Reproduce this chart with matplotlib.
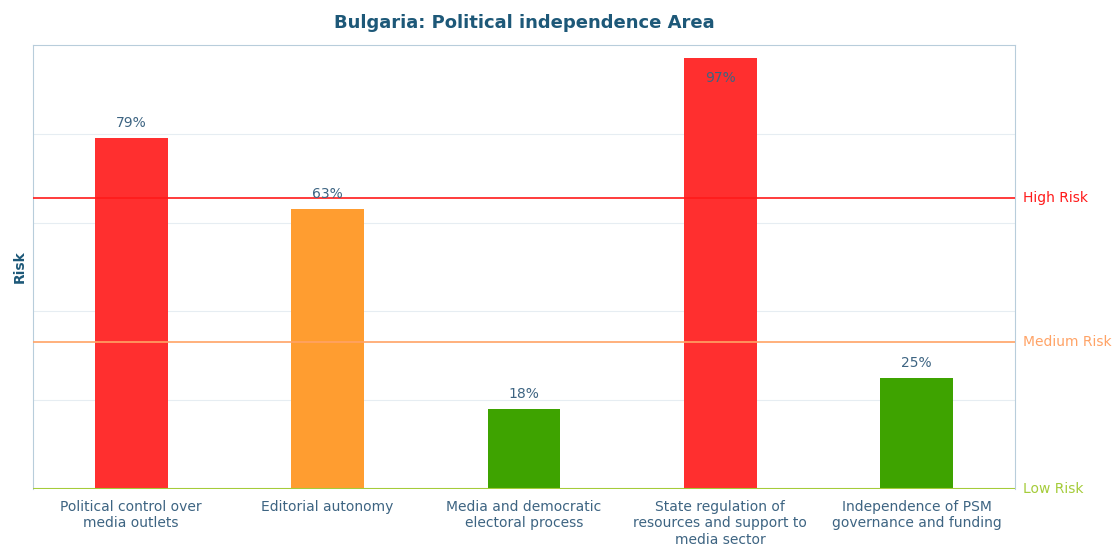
import matplotlib.pyplot as plt

# Data
categories = ['Political control over\nmedia outlets',
              'Editorial autonomy',
              'Media and democratic\nelectoral process',
              'State regulation of\nresources and support to\nmedia sector',
              'Independence of PSM\ngovernance and funding']
risk_values = [79, 63, 18, 97, 25]
bar_colors = ['#ff2f2f', '#ff9d30', '#3ea300', '#ff2f2f', '#3ea300']
threshold_names = ['Low Risk', 'Medium Risk', 'High Risk']
threshold_values = [0, 33, 65.5]
threshold_colors = ['#a5cc3a', '#ffa366', '#ff1a1a']

text_col = '#3d6482'
title_col = '#1d5878'
spine_col = '#b8cddb'

fig = plt.figure(figsize=(11.16, 5.46), dpi=100)
ax = fig.add_axes([0.0296, 0.1044, 0.8799, 0.8132])

x = list(range(len(categories)))
ax.bar(x, risk_values, width=0.37, color=bar_colors, zorder=3)

# value labels
for xi, v in zip(x, risk_values):
    if v > 92:
        ax.annotate(f'{v}%', (xi, v), xytext=(0, -14), textcoords='offset points',
                    ha='center', va='center', fontsize=10, color=text_col, zorder=5)
    else:
        ax.annotate(f'{v}%', (xi, v), xytext=(0, 11), textcoords='offset points',
                    ha='center', va='center', fontsize=10, color=text_col, zorder=5)

# risk thresholds
for name, val, col in zip(threshold_names, threshold_values, threshold_colors):
    ax.axhline(val, color=col, lw=1.2 if val > 0 else 1.5, zorder=4)
    ax.text(1.008, val, name, transform=ax.get_yaxis_transform(), color=col,
            fontsize=10, va='center', ha='left')

ax.set_xlim(-0.5, 4.5)
ax.set_ylim(0, 100)
ax.set_yticks([20, 40, 60, 80])
ax.set_yticklabels([])
ax.tick_params(axis='y', length=0)
ax.grid(axis='y', color='#e6edf2', lw=0.8, zorder=0)

ax.set_xticks(x)
ax.set_xticklabels(categories, fontsize=10, color=text_col)
ax.tick_params(axis='x', length=0, pad=8)

for s in ['left', 'right', 'top']:
    ax.spines[s].set_color(spine_col)
ax.spines['bottom'].set_visible(False)

ax.set_ylabel('Risk', fontsize=10, fontweight='bold', color=title_col, labelpad=1)
ax.set_title('Bulgaria: Political independence Area', fontsize=13, fontweight='bold',
             color=title_col, pad=12)

fig.savefig('out.png', dpi=100)
